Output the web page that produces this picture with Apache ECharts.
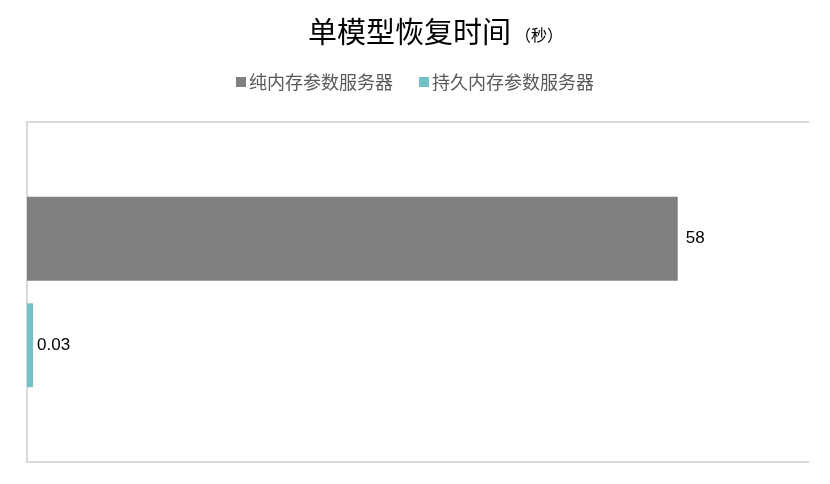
<!DOCTYPE html>
<html>
<head>
<meta charset="utf-8">
<script src="https://cdn.jsdelivr.net/npm/echarts@6/dist/echarts.min.js"></script>
<style>
    html, body { margin: 0; padding: 0; background: #fff; }
    #chart { width: 830px; height: 484px; }
</style>
</head>
<body>
<div id="chart"></div>
<script>
var categories = ['恢复时间'];
var seriesNames = ['纯内存参数服务器', '持久内存参数服务器'];
var pureMemory = [58];
var persistentMemory = [0.03];

function labelStyle(dist) {
    return {
        show: true,
        position: 'right',
        color: '#000',
        fontSize: 17,
        fontFamily: 'Liberation Sans',
        distance: dist
    };
}

var option = {
    title: {
        text: '{main|单模型恢复时间}{sub|（秒）}',
        left: 303,
        top: 12,
        textStyle: {
            rich: {
                main: { fontSize: 29, fontWeight: 'normal', color: '#000', fontFamily: 'Noto Sans CJK SC' },
                sub: { fontSize: 16, fontWeight: 'normal', color: '#000', fontFamily: 'Noto Sans CJK SC', padding: [6, 0, 0, 4] }
            }
        }
    },
    legend: {
        top: 68,
        left: 'center',
        icon: 'rect',
        itemWidth: 10,
        itemHeight: 10,
        itemGap: 26,
        itemStyle: { borderWidth: 0 },
        textStyle: { fontSize: 18, color: '#595959', fontFamily: 'Noto Sans CJK SC', padding: [0, 0, 0, -2] },
        data: seriesNames
    },
    grid: {
        left: 27,
        right: 21,
        top: 122,
        bottom: 22,
        containLabel: false
    },
    xAxis: {
        type: 'value',
        min: 0,
        max: 69.7,
        axisLine: { show: false },
        axisTick: { show: false },
        axisLabel: { show: false },
        splitLine: { show: false }
    },
    yAxis: {
        type: 'category',
        inverse: true,
        data: categories,
        axisLine: { show: true, lineStyle: { color: '#d9d9d9', width: 2 } },
        axisTick: { show: false },
        axisLabel: { show: false },
        splitLine: { show: true, lineStyle: { color: '#d9d9d9', width: 2 } }
    },
    series: [
        {
            name: seriesNames[0],
            type: 'bar',
            data: pureMemory,
            itemStyle: { color: '#808080' },
            barGap: '27%',
            barCategoryGap: '44%',
            label: labelStyle(8),
            silent: true
        },
        {
            name: seriesNames[1],
            type: 'bar',
            data: persistentMemory,
            itemStyle: { color: '#72C1C6' },
            barMinHeight: 6,
            label: labelStyle(4),
            silent: true
        }
    ]
};

var myChart = echarts.init(document.getElementById('chart'));
myChart.setOption(option);
</script>
</body>
</html>
